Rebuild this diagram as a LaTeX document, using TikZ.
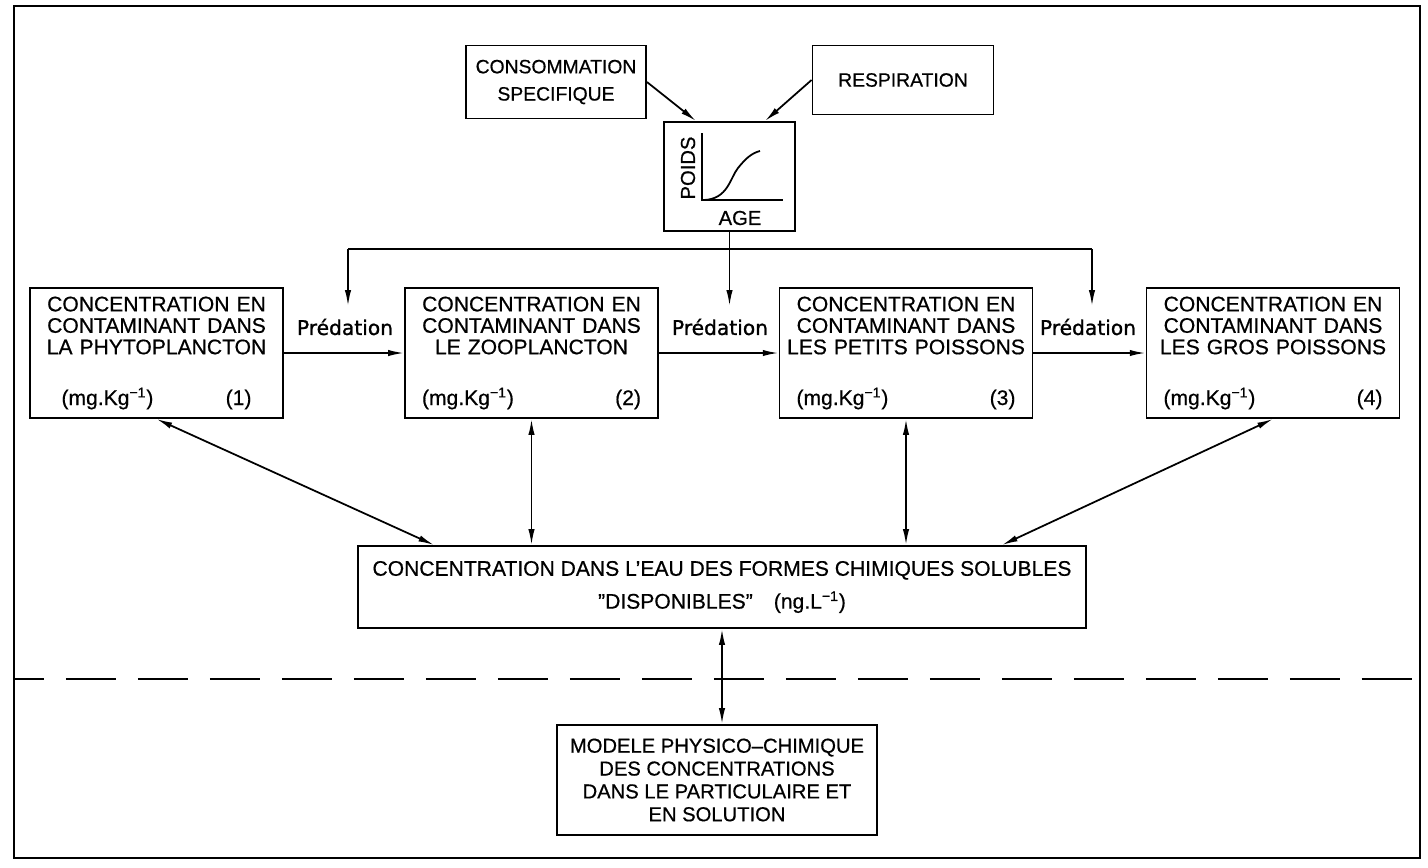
\documentclass[tikz,border=0pt]{standalone}
\usepackage{fontspec}
\setmainfont{Liberation Sans}[FakeBold=0.6]
\newfontfamily\predfont[FakeBold=1.2]{DejaVu Sans}
\usetikzlibrary{arrows.meta}

\newcommand{\unitline}[2][4.38cm]{\makebox[#1]{(mg.Kg\textsuperscript{−1})\hfill(#2)}}

\tikzset{
  box/.style={draw, line width=1.1pt, align=center, inner sep=0pt, font=\fontsize{12}{12.2}\selectfont},
  concbox/.style={box, minimum width=5.06cm, minimum height=2.6cm, text width=4.95cm},
  link/.style={line width=1pt, -{Latex[length=9pt,width=3.6pt]}},
  twoway/.style={line width=1pt, {Latex[length=9pt,width=3.6pt]}-{Latex[length=9pt,width=3.6pt]}},
  predlabel/.style={font=\predfont\fontsize{11.5}{12}\selectfont}
}

\begin{document}
\begin{tikzpicture}[x=0.02cm, y=-0.02cm]
            \useasboundingbox (0,0) rectangle (1428,867);

            % Draw the frame
            \draw[line width=1.6pt] (14,6) rectangle (1420,858);

            % Growth of the fish
            \node[box, minimum width=3.6cm, minimum height=1.46cm, font=\fontsize{11}{15.5}\selectfont] (conso) at (556,82) {CONSOMMATION\\SPECIFIQUE};
            \node[box, minimum width=3.62cm, minimum height=1.38cm, font=\fontsize{11}{12}\selectfont] (resp) at (903,80) {RESPIRATION};
            \node[box, minimum width=2.62cm, minimum height=2.18cm] (poids) at (729.5,176.5) {};
            \draw[link] (conso.east) -- ([xshift=0.66cm]poids.north west);
            \draw[link] (resp.west) -- ([xshift=-0.62cm]poids.north east);

            % Draw the small graph
            \draw[line width=1pt] (702,133) -- (702,200) -- (783,200);
            \draw[line width=1pt] (704,200) .. controls (728,199) and (730,178) .. (738,168) .. controls (746,158) and (752,153) .. (760,151);
            \node[rotate=90, font=\fontsize{11.5}{12}\selectfont] (poidslabel) at (688,168) {POIDS};
            \node[font=\fontsize{11.5}{12}\selectfont] (agelabel) at (740,218) {AGE};

            % Concentration boxes
            \node[concbox] (phyto) at (156.5,353) {CONCENTRATION EN\\CONTAMINANT DANS\\LA PHYTOPLANCTON\\[16.7pt]\unitline[3.8cm]{1}};
            \node[concbox] (zoo) at (531.5,353) {CONCENTRATION EN\\CONTAMINANT DANS\\LE ZOOPLANCTON\\[16.7pt]\unitline{2}};
            \node[concbox] (petits) at (906,353) {CONCENTRATION EN\\CONTAMINANT DANS\\LES PETITS POISSONS\\[16.7pt]\unitline{3}};
            \node[concbox] (gros) at (1273,353) {CONCENTRATION EN\\CONTAMINANT DANS\\LES GROS POISSONS\\[16.7pt]\unitline{4}};

            % Predation links
            \node[predlabel] (pred1) at (345,327) {Prédation};
            \node[predlabel] (pred2) at (720,327) {Prédation};
            \node[predlabel] (pred3) at (1088,327) {Prédation};
            \draw[link] (phyto) -- (zoo);
            \draw[link] (zoo) -- (petits);
            \draw[link] (petits) -- (gros);

            % Growth feeds the predation
            \coordinate (busL) at (348,249);
            \coordinate (busR) at (1092,249);
            \coordinate (tipL) at (348,306);
            \coordinate (tipR) at (1092,306);
            \draw[line width=1pt] (busL) -- (busR);
            \draw[link] (poids.south) -- (poids.south |- tipL);
            \draw[link] (busL) -- (tipL);
            \draw[link] (busR) -- (tipR);

            % Water box
            \node[box, minimum width=14.56cm, minimum height=1.64cm, font=\fontsize{12}{18.7}\selectfont] (eau) at (722,587) {CONCENTRATION DANS L'EAU DES FORMES CHIMIQUES SOLUBLES\\\char"22 DISPONIBLES\char"22\quad (ng.L\textsuperscript{−1})};
            \draw[twoway] (phyto.south) -- ([xshift=1.54cm]eau.north west);
            \draw[twoway] (zoo.south) -- (zoo.south |- eau.north);
            \draw[twoway] (petits.south) -- (petits.south |- eau.north);
            \draw[twoway] (gros.south) -- ([xshift=-1.7cm]eau.north east);

            % Dashed separation
            \draw[line width=1pt, dash pattern=on 1cm off 0.44cm, dash phase=0.4cm] (14,679) -- (1420,679);

            % Physico-chemical model
            \node[box, minimum width=6.4cm, minimum height=2.2cm, font=\fontsize{11.5}{13}\selectfont] (modele) at (717,780) {MODELE PHYSICO--CHIMIQUE\\DES CONCENTRATIONS\\DANS LE PARTICULAIRE ET\\EN SOLUTION};
            \draw[twoway] (eau.south) -- (eau.south |- modele.north);
        \end{tikzpicture}
\end{document}
